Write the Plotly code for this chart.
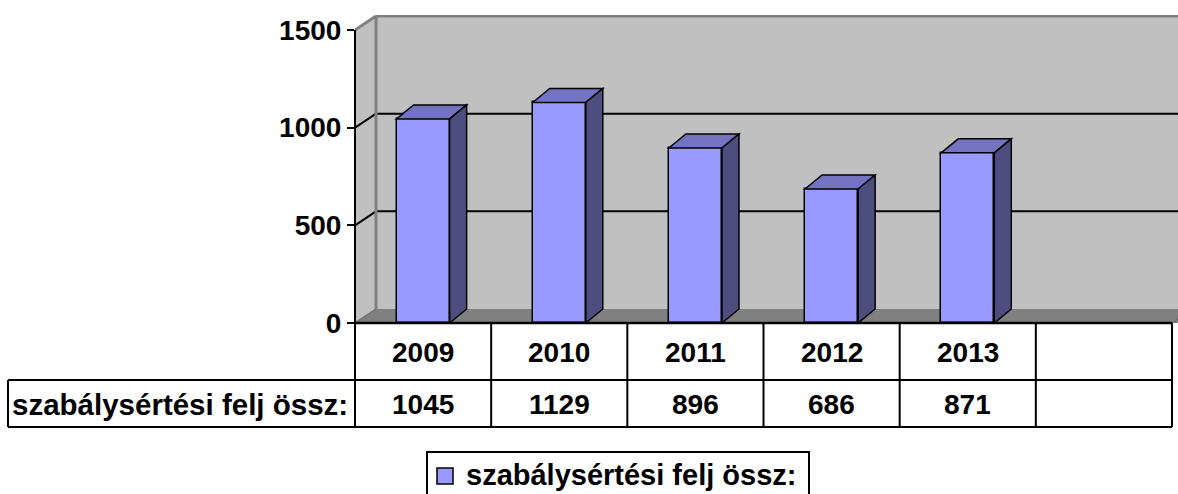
import plotly.graph_objects as go

# ---- data ----
categories = ["2009", "2010", "2011", "2012", "2013", ""]
years = ["2009", "2010", "2011", "2012", "2013"]
values = [1045, 1129, 896, 686, 871]
series_name = "szabálysértési felj össz:"
y_ticks = [0, 500, 1000, 1500]

# ---- geometry (pixels) ----
W, H = 1178, 494
PL, PR, PT, PB = 355, 1178, 15, 323
FRONT_TOP = 30          # pixel of y=1500 on the front plane
FRONT_RIGHT = 1172
WALL_DX, WALL_DY = 21, 14
BAR_DX, BAR_DY = 17, 14
YMAX = 1500

PX_PER_Y = (PB - FRONT_TOP) / YMAX
PX_PER_X = (FRONT_RIGHT - PL) / len(categories)
x_range = [-0.5, -0.5 + (PR - PL) / PX_PER_X]
y_range = [0, (PB - PT) / PX_PER_Y]

def ux(px):
    return px / PX_PER_X

def uy(px):
    return px / PX_PER_Y

def paper_x(px):
    return (px - PL) / (PR - PL)

def paper_y(py):
    return (PB - py) / (PB - PT)

FONT = "Liberation Sans, Arial, sans-serif"
FRONT_C = "#9999FF"
TOP_C = "#7373BF"
SIDE_C = "#4D4D80"
WALL_C = "#C0C0C0"
FLOOR_C = "#808080"
EDGE_C = "#808080"

wdx, wdy = ux(WALL_DX), uy(WALL_DY)
bdx, bdy = ux(BAR_DX), uy(BAR_DY)
x_left = -0.5
x_right_front = len(categories) - 0.5
x_far = x_range[1] + 1

shapes = []
# left wall
shapes.append(dict(type="path", xref="x", yref="y", layer="below",
                   path=f"M{x_left},0 L{x_left},{YMAX} L{x_left+wdx},{YMAX+wdy} L{x_left+wdx},{wdy} Z",
                   fillcolor=WALL_C, line=dict(width=0)))
# back wall
shapes.append(dict(type="rect", xref="x", yref="y", layer="below",
                   x0=x_left + wdx, x1=x_far, y0=wdy, y1=YMAX + wdy,
                   fillcolor=WALL_C, line=dict(width=0)))
# floor
shapes.append(dict(type="path", xref="x", yref="y", layer="below",
                   path=f"M{x_left},0 L{x_left+wdx},{wdy} L{x_far},{wdy} L{x_far},0 Z",
                   fillcolor=FLOOR_C, line=dict(width=0)))
# gridlines
for t in y_ticks[1:-1]:
    shapes.append(dict(type="line", xref="x", yref="y", layer="below",
                       x0=x_left + wdx, x1=x_far, y0=t + wdy, y1=t + wdy,
                       line=dict(color="black", width=2)))
    shapes.append(dict(type="line", xref="x", yref="y", layer="below",
                       x0=x_left, x1=x_left + wdx, y0=t, y1=t + wdy,
                       line=dict(color="black", width=2)))
# wall edges
shapes.append(dict(type="line", xref="x", yref="y", layer="below",
                   x0=x_left + wdx, x1=x_far, y0=YMAX + wdy, y1=YMAX + wdy,
                   line=dict(color=EDGE_C, width=3)))
shapes.append(dict(type="line", xref="x", yref="y", layer="below",
                   x0=x_left, x1=x_left + wdx, y0=YMAX, y1=YMAX + wdy,
                   line=dict(color=EDGE_C, width=3)))
shapes.append(dict(type="line", xref="x", yref="y", layer="below",
                   x0=x_left + wdx, x1=x_left + wdx, y0=wdy, y1=YMAX + wdy,
                   line=dict(color=EDGE_C, width=3)))
shapes.append(dict(type="line", xref="x", yref="y", layer="below",
                   x0=x_left, x1=x_left + wdx, y0=0, y1=wdy,
                   line=dict(color="#707070", width=1.5)))
shapes.append(dict(type="line", xref="x", yref="y", layer="below",
                   x0=x_right_front, x1=x_right_front + wdx, y0=0, y1=wdy,
                   line=dict(color="#707070", width=1.5)))

# 3D bar tops and sides
BAR_W = 0.39
for i, v in enumerate(values):
    xl, xr = i - BAR_W / 2, i + BAR_W / 2
    shapes.append(dict(type="path", xref="x", yref="y", layer="above",
                       path=f"M{xl},{v} L{xl+bdx},{v+bdy} L{xr+bdx},{v+bdy} L{xr},{v} Z",
                       fillcolor=TOP_C, line=dict(color="black", width=1.5)))
    shapes.append(dict(type="path", xref="x", yref="y", layer="above",
                       path=f"M{xr},0 L{xr+bdx},{bdy} L{xr+bdx},{v+bdy} L{xr},{v} Z",
                       fillcolor=SIDE_C, line=dict(color="black", width=1.5)))

# y axis line (front)
shapes.append(dict(type="line", xref="paper", yref="paper",
                   x0=0, x1=0, y0=paper_y(FRONT_TOP), y1=paper_y(380),
                   line=dict(color="black", width=2)))

# data table lines
ROW1, ROW2, ROW3 = 323, 380, 427
LABEL_LEFT = 8
def col_px(k):
    return PL + k * PX_PER_X
shapes.append(dict(type="line", xref="paper", yref="paper",
                   x0=paper_x(PL), x1=paper_x(FRONT_RIGHT), y0=paper_y(ROW1), y1=paper_y(ROW1),
                   line=dict(color="black", width=2.5)))
for yy in (ROW2, ROW3):
    shapes.append(dict(type="line", xref="paper", yref="paper",
                       x0=paper_x(LABEL_LEFT), x1=paper_x(FRONT_RIGHT), y0=paper_y(yy), y1=paper_y(yy),
                       line=dict(color="black", width=2)))
for k in range(len(categories) + 1):
    shapes.append(dict(type="line", xref="paper", yref="paper",
                       x0=paper_x(col_px(k)), x1=paper_x(col_px(k)), y0=paper_y(ROW1), y1=paper_y(ROW3),
                       line=dict(color="black", width=2)))
shapes.append(dict(type="line", xref="paper", yref="paper",
                   x0=paper_x(LABEL_LEFT), x1=paper_x(LABEL_LEFT), y0=paper_y(ROW2), y1=paper_y(ROW3),
                   line=dict(color="black", width=2)))

# legend (drawn manually to match box geometry)
LEG_L, LEG_T, LEG_R, LEG_B = 427, 452, 809, 502
shapes.append(dict(type="rect", xref="paper", yref="paper",
                   x0=paper_x(LEG_L), x1=paper_x(LEG_R), y0=paper_y(LEG_T), y1=paper_y(LEG_B),
                   fillcolor="white", line=dict(color="black", width=2)))
shapes.append(dict(type="rect", xref="paper", yref="paper",
                   x0=paper_x(437), x1=paper_x(453), y0=paper_y(468), y1=paper_y(484),
                   fillcolor=FRONT_C, line=dict(color="black", width=1.5)))

TXT = dict(family=FONT, size=28, color="black", weight="bold")
annotations = []
for i, c in enumerate(categories):
    if c:
        annotations.append(dict(x=i, xref="x", y=paper_y((ROW1 + ROW2) / 2 + 1), yref="paper",
                                text=c, showarrow=False, xanchor="center", yanchor="middle",
                                font=TXT))
for i, v in enumerate(values):
    annotations.append(dict(x=i, xref="x", y=paper_y((ROW2 + ROW3) / 2 + 1), yref="paper",
                            text=str(v), showarrow=False, xanchor="center", yanchor="middle",
                            font=TXT))
annotations.append(dict(x=paper_x(LABEL_LEFT + 2), xref="paper", y=paper_y((ROW2 + ROW3) / 2 + 1), yref="paper",
                        text=series_name, showarrow=False, xanchor="left", yanchor="middle",
                        font=dict(family=FONT, size=29.5, color="black", weight="bold")))
annotations.append(dict(x=paper_x(464), xref="paper", y=paper_y(475), yref="paper",
                        text=series_name, showarrow=False, xanchor="left", yanchor="middle",
                        font=dict(family=FONT, size=29, color="black", weight="bold")))

fig = go.Figure()
fig.add_trace(go.Bar(x=list(range(len(values))), y=values, width=BAR_W, name=series_name,
                     marker=dict(color=FRONT_C, line=dict(color="black", width=1.5)),
                     showlegend=False, hoverinfo="skip"))

fig.update_layout(
    width=W, height=H,
    margin=dict(l=PL, r=W - PR, t=PT, b=H - PB, autoexpand=False),
    paper_bgcolor="white", plot_bgcolor="white",
    font=dict(family=FONT, color="black"),
    xaxis=dict(range=x_range, showgrid=False, zeroline=False, showticklabels=False,
               showline=False, ticks="", fixedrange=True),
    yaxis=dict(range=y_range, tickvals=y_ticks, ticktext=[str(t) for t in y_ticks],
               showgrid=False, zeroline=False, showline=False,
               ticks="outside", ticklen=7, tickwidth=2, tickcolor="black",
               tickfont=dict(family=FONT, size=28, color="black", weight="bold"),
               fixedrange=True),
    shapes=shapes,
    annotations=annotations,
    showlegend=False,
    bargap=0,
)

fig.write_html("out.html", config={"displayModeBar": False},
               post_script="document.body.style.margin='0';document.body.style.overflow='hidden';")
